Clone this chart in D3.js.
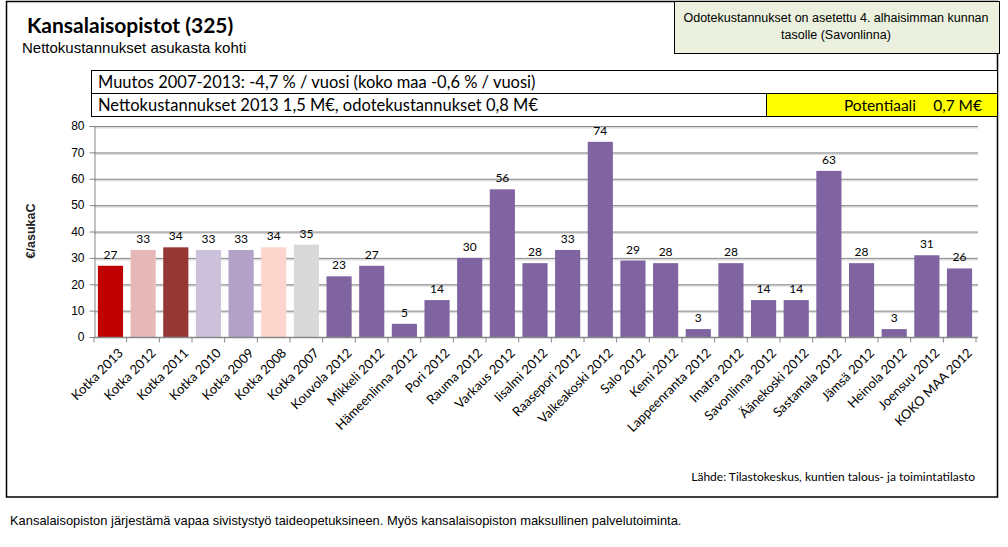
<!DOCTYPE html>
<html>
<head>
<meta charset="utf-8">
<script src="https://cdn.jsdelivr.net/npm/d3@7"></script>
<style>
  body { margin: 0; background: #fff; }
  svg { display: block; }
</style>
</head>
<body>
<div id="chart"></div>
<script>
// data
var categories = ["Kotka 2013", "Kotka 2012", "Kotka 2011", "Kotka 2010", "Kotka 2009", "Kotka 2008", "Kotka 2007",
  "Kouvola 2012", "Mikkeli 2012", "Hämeenlinna 2012", "Pori 2012", "Rauma 2012", "Varkaus 2012", "Iisalmi 2012",
  "Raasepori 2012", "Valkeakoski 2012", "Salo 2012", "Kemi 2012", "Lappeenranta 2012", "Imatra 2012",
  "Savonlinna 2012", "Äänekoski 2012", "Sastamala 2012", "Jämsä 2012", "Heinola 2012", "Joensuu 2012", "KOKO MAA 2012"];
var values = [27, 33, 34, 33, 33, 34, 35, 23, 27, 5, 14, 30, 56, 28, 33, 74, 29, 28, 3, 28, 14, 14, 63, 28, 3, 31, 26];
var barColors = ["#C00000", "#E6B9B8", "#953735", "#CCC1DA", "#B3A2C7", "#FCD5CC", "#D9D9D9"];
var otherColor = "#8064A2";
var yTicks = [0, 10, 20, 30, 40, 50, 60, 70, 80];

var w = 1008, h = 547;
var calibri = "Lato, 'Open Sans', sans-serif";
var arial = "'Liberation Sans', Arial, sans-serif";

var svg = d3.select("#chart").append("svg")
  .attr("width", w).attr("height", h);

// outer frame
svg.append("rect")
  .attr("x", 6.5).attr("y", 1.5).attr("width", 991).attr("height", 495.5)
  .attr("fill", "none").attr("stroke", "#000").attr("stroke-width", 1.5);

// note box top right
svg.append("rect")
  .attr("x", 674.5).attr("y", 1.5).attr("width", 325).attr("height", 52)
  .attr("fill", "#EBF1DE").attr("stroke", "#000").attr("stroke-width", 1);
svg.append("text").attr("x", 836).attr("y", 22).attr("text-anchor", "middle")
  .style("font-family", arial).style("font-size", "12.5px")
  .text("Odotekustannukset on asetettu 4. alhaisimman kunnan");
svg.append("text").attr("x", 836).attr("y", 39).attr("text-anchor", "middle")
  .style("font-family", arial).style("font-size", "12.5px")
  .text("tasolle (Savonlinna)");

// title
svg.append("text").attr("x", 27).attr("y", 33)
  .style("font-family", calibri).style("font-size", "21px").style("font-weight", "bold")
  .text("Kansalaisopistot (325)");
svg.append("text").attr("x", 22).attr("y", 53)
  .style("font-family", arial).style("font-size", "15px")
  .text("Nettokustannukset asukasta kohti");

// info rows
var info = svg.append("g");
info.append("rect").attr("x", 91.5).attr("y", 70.5).attr("width", 906).attr("height", 23)
  .attr("fill", "#fff").attr("stroke", "#000");
info.append("rect").attr("x", 91.5).attr("y", 93.5).attr("width", 906).attr("height", 23)
  .attr("fill", "#fff").attr("stroke", "#000");
info.append("rect").attr("x", 766.5).attr("y", 93.5).attr("width", 231).attr("height", 23)
  .attr("fill", "#FFFF00").attr("stroke", "#000");
info.append("text").attr("x", 98).attr("y", 88)
  .style("font-family", calibri).style("font-size", "16.5px")
  .text("Muutos 2007-2013: -4,7 % / vuosi (koko maa -0,6 % / vuosi)");
info.append("text").attr("x", 98).attr("y", 111)
  .style("font-family", calibri).style("font-size", "16.5px")
  .text("Nettokustannukset 2013 1,5 M€, odotekustannukset 0,8 M€");
info.append("text").attr("x", 916).attr("y", 111).attr("text-anchor", "end")
  .style("font-family", calibri).style("font-size", "15.5px")
  .text("Potentiaali");
info.append("text").attr("x", 982).attr("y", 111).attr("text-anchor", "end")
  .style("font-family", calibri).style("font-size", "15.5px")
  .text("0,7 M€");

// scales
var x = d3.scaleBand().domain(categories).range([94, 976]).paddingInner(0.23).paddingOuter(0.12);
var y = d3.scaleLinear().domain([0, 80]).range([337, 126]);

// gridlines
var grid = svg.append("g");
grid.selectAll(".gl2").data(yTicks.slice(1)).enter().append("line")
  .attr("x1", 94).attr("x2", 978)
  .attr("y1", function(d) { return y(d) + 1.5; }).attr("y2", function(d) { return y(d) + 1.5; })
  .attr("stroke", "#DCDCDC").attr("stroke-width", 2);
grid.selectAll(".gl").data(yTicks.slice(1)).enter().append("line")
  .attr("x1", 94).attr("x2", 978)
  .attr("y1", function(d) { return y(d) + 0.5; }).attr("y2", function(d) { return y(d) + 0.5; })
  .attr("stroke", "#8A8A8A").attr("stroke-width", 1);

// bars
svg.selectAll(".bar").data(values).enter().append("rect")
  .attr("x", function(d, i) { return x(categories[i]); })
  .attr("y", function(d) { return y(d); })
  .attr("width", x.bandwidth())
  .attr("height", function(d) { return y(0) - y(d); })
  .attr("fill", function(d, i) { return i < barColors.length ? barColors[i] : otherColor; });

// value labels
svg.selectAll(".val").data(values).enter().append("text")
  .attr("x", function(d, i) { return x(categories[i]) + x.bandwidth() / 2; })
  .attr("y", function(d) { return y(d) - 7; })
  .attr("text-anchor", "middle")
  .style("font-family", calibri).style("font-size", "12px")
  .text(function(d) { return d; });

// y axis
var yAxis = svg.append("g").attr("transform", "translate(94.5,0)")
  .call(d3.axisLeft(y).tickValues(yTicks).tickSize(5).tickPadding(5));
yAxis.select(".domain").attr("stroke", "#868686");
yAxis.selectAll(".tick line").attr("stroke", "#868686");
yAxis.selectAll("text").style("font-family", arial).style("font-size", "12px").attr("fill", "#000");

// x axis
var xAxis = svg.append("g").attr("transform", "translate(0," + (y(0) + 0.5) + ")");
xAxis.append("line").attr("x1", 94).attr("x2", 978).attr("stroke", "#868686").attr("stroke-width", 1.5);
var bounds = d3.range(categories.length + 1).map(function(i) { return 94 + i * (976 - 94) / categories.length; });
xAxis.selectAll(".tk").data(bounds).enter().append("line")
  .attr("x1", function(d) { return d; }).attr("x2", function(d) { return d; })
  .attr("y1", 0).attr("y2", 5).attr("stroke", "#868686");
xAxis.selectAll(".xl").data(categories).enter().append("text")
  .attr("transform", function(d) {
    return "translate(" + (x(d) + x.bandwidth() / 2 + 7) + ",10) rotate(-45)";
  })
  .attr("text-anchor", "end")
  .attr("dy", "0.7em")
  .style("font-family", calibri).style("font-size", "13px")
  .text(function(d) { return d; });

// y title
svg.append("text").attr("transform", "translate(35,231) rotate(-90)")
  .attr("text-anchor", "middle")
  .style("font-family", arial).style("font-size", "12.5px").style("font-weight", "bold")
  .attr("fill", "#222")
  .text("€/asukaC");

// source
svg.append("text").attr("x", 975).attr("y", 481).attr("text-anchor", "end")
  .style("font-family", calibri).style("font-size", "12px")
  .text("Lähde: Tilastokeskus, kuntien talous- ja toimintatilasto");

// footnote
svg.append("text").attr("x", 10).attr("y", 525)
  .style("font-family", arial).style("font-size", "12.9px")
  .text("Kansalaisopiston järjestämä vapaa sivistystyö taideopetuksineen. Myös kansalaisopiston maksullinen palvelutoiminta.");
</script>
</body>
</html>
